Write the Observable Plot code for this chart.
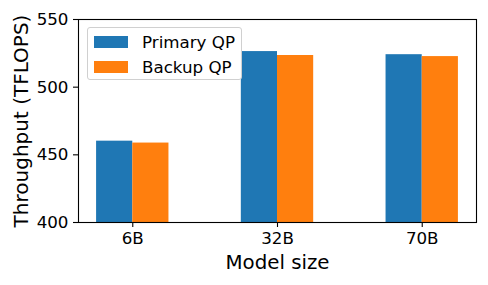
<!DOCTYPE html>
<html>
<head>
<meta charset="utf-8">
<script src="https://cdn.jsdelivr.net/npm/d3@7"></script>
<script src="https://cdn.jsdelivr.net/npm/@observablehq/plot@0.6"></script>
<style>
  body { margin: 0; background: white; }
  #wrap { position: relative; width: 488px; height: 285px; font-family: "DejaVu Sans", sans-serif; }
  #legend { position: absolute; left: 87px; top: 27px; width: 155px; height: 53px;
            border: 1px solid #d0d0d0; border-radius: 3px; background: rgba(255,255,255,0.85); box-sizing: border-box; }
  .item { position: absolute; left: 6px; height: 14px; display: flex; align-items: center; }
  .sw { width: 34px; height: 12px; margin-right: 14px; }
  .lab { font-size: 16.7px; line-height: 14px; color: black; white-space: nowrap; }
</style>
</head>
<body>
<div id="wrap"></div>
<script>
const models = ["6B", "32B", "70B"];
const series = ["Primary QP", "Backup QP"];
const primary = [460.1, 526.3, 524.0];
const backup = [458.7, 523.4, 522.6];
const yTicks = [400, 450, 500, 550];
const colors = ["#1f77b4", "#ff7f0e"];
const xLabel = "Model size";
const yLabel = "Throughput (TFLOPS)";

const rows = [];
models.forEach((m, i) => {
  rows.push({i, s: 0, value: primary[i]});
  rows.push({i, s: 1, value: backup[i]});
});

const barW = 0.25;
const chart = Plot.plot({
  width: 488,
  height: 285,
  marginLeft: 78,
  marginRight: 12,
  marginTop: 19,
  marginBottom: 63,
  style: {fontFamily: "DejaVu Sans", fontSize: "16.7px", color: "black", background: "white", overflow: "visible"},
  x: {type: "linear", domain: [-0.375, 2.375]},
  y: {domain: [yTicks[0], yTicks[yTicks.length - 1]]},
  color: {domain: series, range: colors},
  marks: [
    Plot.rectY(rows, {
      x1: d => d.i + (d.s - 1) * barW,
      x2: d => d.i + d.s * barW,
      y1: yTicks[0],
      y2: "value",
      fill: d => series[d.s]
    }),
    Plot.frame({stroke: "black", strokeWidth: 1.1}),
    Plot.axisX({ticks: models.map((m, i) => i), tickFormat: i => models[i], tickSize: 5, tickPadding: 5, label: null, strokeWidth: 1.1}),
    Plot.axisY({ticks: yTicks, tickSize: 5, tickPadding: 5, label: null, strokeWidth: 1.1}),
    Plot.text([xLabel], {text: d => d, frameAnchor: "bottom", lineAnchor: "bottom", dy: 46, fontSize: 19.8, fill: "black"}),
    Plot.text([yLabel], {text: d => d, frameAnchor: "left", rotate: -90, textAnchor: "middle", lineAnchor: "middle", dx: -57, fontSize: 20, fill: "black"})
  ]
});

const wrap = document.getElementById("wrap");
wrap.appendChild(chart);
const legend = document.createElement("div");
legend.id = "legend";
series.forEach((s, k) => {
  const item = document.createElement("div");
  item.className = "item";
  item.style.top = (7 + k * 24.6) + "px";
  const sw = document.createElement("div");
  sw.className = "sw";
  sw.style.background = colors[k];
  const lab = document.createElement("span");
  lab.className = "lab";
  lab.textContent = s;
  item.appendChild(sw);
  item.appendChild(lab);
  legend.appendChild(item);
});
wrap.appendChild(legend);
</script>
</body>
</html>
